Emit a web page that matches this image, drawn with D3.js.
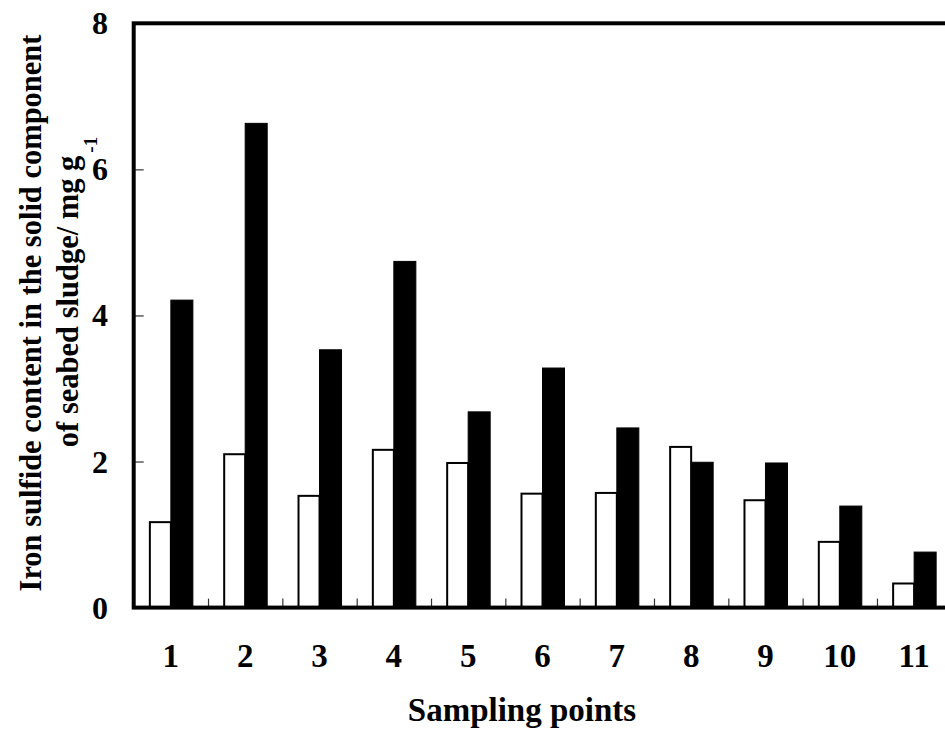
<!DOCTYPE html>
<html>
<head>
<meta charset="utf-8">
<script src="https://cdn.jsdelivr.net/npm/d3@7"></script>
<style>
  html, body { margin: 0; padding: 0; background: #fff; overflow: hidden; }
  svg { display: block; font-family: "Liberation Serif", "Times New Roman", serif; font-weight: bold; }
</style>
</head>
<body>
<svg id="chart" width="945" height="729"></svg>
<script>
// Sampling points along the x axis
const categories = ["1", "2", "3", "4", "5", "6", "7", "8", "9", "10", "11"];
// Two series per sampling point (open and filled bars), mg g^-1
const seriesNames = ["open", "filled"];
const openValues   = [1.17, 2.10, 1.53, 2.16, 1.98, 1.56, 1.57, 2.20, 1.47, 0.90, 0.33];
const filledValues = [4.21, 6.63, 3.53, 4.74, 2.68, 3.28, 2.46, 1.99, 1.98, 1.39, 0.76];
const yTicks = [0, 2, 4, 6, 8];

const svg = d3.select("#chart");
const plotLeft = 133.7, plotRight = 951.3, plotTop = 23.3, plotBottom = 607.6;

const x = d3.scaleBand()
  .domain(categories)
  .range([plotLeft, plotRight])
  .paddingInner(0.408)
  .paddingOuter(0.204);

const xSub = d3.scaleBand()
  .domain(seriesNames)
  .range([0, x.bandwidth()]);

const y = d3.scaleLinear().domain([0, 8]).range([plotBottom, plotTop]);

const rows = categories.map((c, i) => ({ cat: c, open: openValues[i], filled: filledValues[i] }));

// Bars
const groups = svg.append("g").selectAll("g")
  .data(rows)
  .join("g")
  .attr("transform", d => `translate(${x(d.cat)},0)`);

groups.selectAll("rect")
  .data(d => seriesNames.map(k => ({ key: k, value: d[k] })))
  .join("rect")
  .attr("x", d => xSub(d.key) + (d.key === "open" ? 1 : 0))
  .attr("width", d => xSub.bandwidth() - (d.key === "open" ? 1 : 0))
  .attr("y", d => y(d.value))
  .attr("height", d => y(0) - y(d.value))
  .attr("fill", d => d.key === "open" ? "#fff" : "#000")
  .attr("stroke", "#000")
  .attr("stroke-width", d => d.key === "open" ? 2 : 1);

// Y axis ticks (inside)
const yAxis = d3.axisRight(y).tickValues(yTicks).tickSize(10).tickFormat("");
const yg = svg.append("g").attr("transform", `translate(${plotLeft},0)`).call(yAxis);
yg.select(".domain").remove();
yg.selectAll(".tick line").attr("stroke", "#333").attr("stroke-width", 1.2);

// Y tick labels
svg.append("g").selectAll("text")
  .data(yTicks)
  .join("text")
  .attr("x", 108)
  .attr("y", d => y(d) + 11)
  .attr("text-anchor", "end")
  .attr("font-size", 32)
  .text(d => d);

// X axis ticks at category boundaries (pointing up)
const boundaries = categories.slice(1).map(c => x(c) - x.step() * x.paddingOuter());
const xBound = d3.scaleLinear().domain([plotLeft, plotRight]).range([plotLeft, plotRight]);
const xAxis = d3.axisTop(xBound).tickValues(boundaries).tickSize(9).tickFormat("");
const xg = svg.append("g").attr("transform", `translate(0,${plotBottom})`).call(xAxis);
xg.select(".domain").remove();
xg.selectAll(".tick line").attr("stroke", "#333").attr("stroke-width", 1.2);

// X tick labels
svg.append("g").selectAll("text")
  .data(categories)
  .join("text")
  .attr("x", d => x(d) + x.bandwidth() / 2)
  .attr("y", 667)
  .attr("text-anchor", "middle")
  .attr("font-size", 33)
  .text(d => d);

// Plot frame
svg.append("rect")
  .attr("x", plotLeft).attr("y", plotTop)
  .attr("width", plotRight - plotLeft).attr("height", plotBottom - plotTop)
  .attr("fill", "none")
  .attr("stroke", "#000")
  .attr("stroke-width", 4);

// Axis titles
svg.append("text")
  .attr("x", 522).attr("y", 721)
  .attr("text-anchor", "middle")
  .attr("font-size", 33)
  .text("Sampling points");

svg.append("text")
  .attr("transform", "translate(41,313) rotate(-90)")
  .attr("text-anchor", "middle")
  .attr("font-size", 30.5)
  .text("Iron sulfide content in the solid component");
const line2 = svg.append("text")
  .attr("transform", "translate(78,292) rotate(-90)")
  .attr("text-anchor", "middle")
  .attr("font-size", 30.5);
line2.append("tspan").text("of seabed sludge/ mg g");
line2.append("tspan").attr("font-size", 19).attr("dx", 3).attr("dy", 19).text("-1");
</script>
</body>
</html>
